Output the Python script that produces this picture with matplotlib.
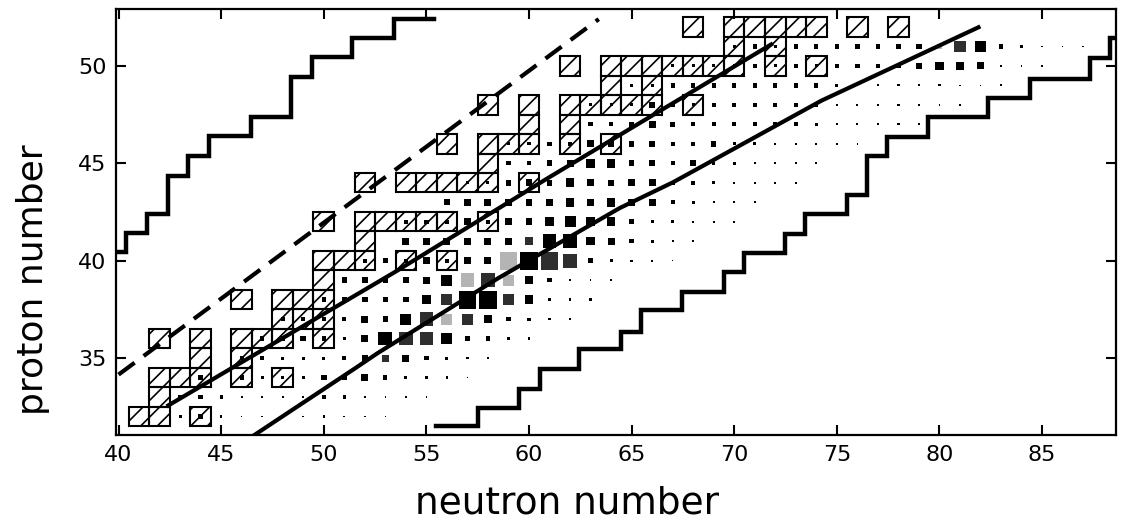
import matplotlib
matplotlib.use('Agg')
import matplotlib.pyplot as plt
from matplotlib.patches import Rectangle

plt.rcParams['hatch.linewidth'] = 1.2

# hatched cells, row by row (proton number -> neutron numbers)
hatch_z = [32, 33, 34, 35, 36, 37, 38, 39, 40, 41, 42, 44, 45, 46, 47, 48, 49, 50, 51, 52]
hatch_n = [
    [41, 42, 44],
    [42],
    [42, 43, 44, 46, 48],
    [44, 46],
    [42, 44, 46, 47, 48, 50],
    [48, 49, 50],
    [46, 48, 49, 50],
    [50],
    [50, 51, 52, 54, 56],
    [52],
    [50, 52, 53, 54, 55, 56, 58],
    [52, 54, 55, 56, 57, 58, 60],
    [58],
    [56, 58, 59, 60, 62, 64],
    [60, 62],
    [58, 60, 62, 63, 64, 65, 66, 68],
    [64, 66],
    [62, 64, 65, 66, 67, 68, 69, 70, 72, 74],
    [70, 72],
    [68, 70, 71, 72, 73, 74, 76, 78],
]

# yield class of each filled square (0 = nothing), rows start at row_start
row_z = list(range(32, 52))
row_start = [43, 43, 44, 46, 47, 48, 50, 51, 52, 53, 54, 56, 57, 59, 59, 63, 63, 65, 67, 70]
row_level = [
    [3, 4, 2, 1, 1, 0, 1, 2, 1, 1, 1],
    [4, 4, 3, 2, 2, 2, 2, 4, 3, 2, 1, 1, 1],
    [4, 0, 4, 3, 3, 3, 5, 5, 6, 4, 3, 2, 2, 1],
    [4, 4, 3, 3, 3, 4, 5, 6, 6, 4, 3, 2, 2],
    [4, 4, 5, 4, 3, 6, 9, 9, 9, 8, 5, 4, 2, 2],
    [4, 4, 4, 4, 6, 5, 8, 9, 8, 8, 7, 4, 3, 2, 2],
    [4, 5, 5, 5, 5, 7, 8, 10, 10, 8, 7, 3, 2, 2],
    [5, 5, 5, 5, 6, 8, 9, 9, 8, 7, 4, 2, 1, 1],
    [4, 5, 4, 6, 4, 6, 6, 10, 10, 10, 9, 5, 3, 2, 2, 1],
    [0, 6, 6, 6, 6, 6, 6, 7, 9, 9, 7, 6, 4, 3, 2, 1],
    [4, 4, 4, 6, 4, 6, 6, 7, 8, 7, 7, 5, 3, 3, 2, 2, 1],
    [5, 6, 6, 6, 6, 6, 7, 6, 7, 6, 6, 4, 3, 2, 2, 2],
    [3, 3, 5, 6, 5, 7, 6, 5, 6, 6, 4, 4, 3, 2, 2, 2, 1],
    [4, 4, 5, 6, 7, 7, 5, 5, 4, 5, 3, 3, 2, 2, 2, 1],
    [3, 3, 4, 4, 6, 5, 5, 5, 4, 4, 5, 3, 3, 2, 2, 2, 2, 1],
    [4, 4, 5, 6, 5, 4, 4, 4, 4, 4, 4, 3, 2, 2, 2, 2, 1],
    [3, 3, 3, 5, 4, 3, 4, 4, 4, 4, 4, 4, 2, 2, 2, 2, 1, 1, 2],
    [3, 3, 4, 4, 4, 4, 4, 4, 4, 4, 3, 2, 2, 2, 2, 2, 1, 1, 2],
    [3, 3, 3, 3, 4, 3, 4, 3, 4, 4, 4, 4, 5, 7, 7, 6, 2, 1, 1],
    [3, 4, 3, 4, 4, 4, 4, 4, 4, 5, 5, 8, 8, 4, 2, 1, 1, 1],
]

# stippled squares (N, Z)
light_cells = [(59, 40), (57, 39), (59, 39), (56, 37), (80, 51)]
dark_cells = [(53, 35), (54, 36), (55, 36), (55, 37), (57, 37), (56, 38), (59, 38),
              (58, 39), (61, 40), (62, 40), (60, 41), (81, 51)]

# drip-line staircases (steps-post)
left_step_n = [39.9, 40.35, 41.41, 42.41, 43.40, 44.39, 46.44, 48.41, 49.41, 51.37, 53.42, 55.38]
left_step_z = [40.44, 41.41, 42.42, 44.37, 45.39, 46.39, 47.39, 49.43, 50.43, 51.43, 52.43, 52.43]
right_step_n = [55.49, 57.53, 59.49, 60.56, 62.44, 64.48, 65.47, 67.47, 69.48, 70.47, 72.48,
                73.47, 75.48, 76.48, 77.43, 79.44, 82.38, 84.39, 87.33, 88.31, 88.6]
right_step_z = [31.51, 32.46, 33.43, 34.44, 35.44, 36.36, 37.45, 38.39, 39.42, 40.41, 41.38,
                42.39, 43.38, 45.35, 46.36, 47.35, 48.34, 49.33, 50.41, 51.43, 51.43]

# curves
dash_n = [40.0, 63.4]
dash_z = [34.15, 52.4]
upper_n = [42.43, 53.49, 60.86, 66.43, 71.8]
upper_z = [32.57, 39.43, 44.20, 47.72, 51.1]
lower_n = [46.55, 51.55, 52.62, 58.5, 64.42, 67.03, 74.24, 81.9]
lower_z = [31.0, 34.49, 35.25, 39.1, 42.70, 44.03, 48.21, 51.98]

side_frac = {1: 0.08, 2: 0.11, 3: 0.15, 4: 0.21, 5: 0.27, 6: 0.34,
             7: 0.42, 8: 0.54, 9: 0.67, 10: 0.87}

fig = plt.figure(figsize=(11.21, 5.29), dpi=100)
ax = fig.add_axes([0.1039, 0.1777, 0.8916, 0.8053])

for z, ns in zip(hatch_z, hatch_n):
    for n in ns:
        ax.add_patch(Rectangle((n - 0.5, z - 0.5), 1, 1, fill=False, hatch='//',
                               edgecolor='black', lw=1.5, zorder=2))

tone = {}
for c in light_cells:
    tone[c] = '#b4b4b4'
for c in dark_cells:
    tone[c] = '#2e2e2e'

xs, ys, ss, cs = [], [], [], []
for z, n0, levels in zip(row_z, row_start, row_level):
    for i, lv in enumerate(levels):
        if lv == 0:
            continue
        n = n0 + i
        xs.append(n)
        ys.append(z)
        ss.append((side_frac[lv] * 20.5 * 0.72) ** 2)
        cs.append(tone.get((n, z), 'black'))
ax.scatter(xs, ys, s=ss, c=cs, marker='s', linewidths=0, zorder=3)

ax.plot(left_step_n, left_step_z, drawstyle='steps-post', color='black', lw=3.2,
        solid_joinstyle='miter', zorder=4)
ax.plot(right_step_n, right_step_z, drawstyle='steps-post', color='black', lw=3.2,
        solid_joinstyle='miter', zorder=4)
ax.plot(dash_n, dash_z, color='black', lw=3, dashes=(4.8, 2.7), zorder=4)
ax.plot(upper_n, upper_z, color='black', lw=3, zorder=4)
ax.plot(lower_n, lower_z, color='black', lw=3, zorder=4)

ax.set_xlim(39.9, 88.6)
ax.set_ylim(31.05, 52.92)
ax.set_xticks(range(40, 90, 5))
ax.set_yticks(range(35, 55, 5))
ax.tick_params(direction='in', length=7, width=1.5, top=True, right=True,
               labelsize=16, pad=7)
for sp in ax.spines.values():
    sp.set_linewidth(1.6)

fig.text(567 / 1121, 1 - 503 / 529, 'neutron number', ha='center', va='center', fontsize=27)
fig.text(33 / 1121, 1 - 280 / 529, 'proton number', ha='center', va='center',
         rotation=90, fontsize=26)

fig.savefig('out.png', dpi=100)
